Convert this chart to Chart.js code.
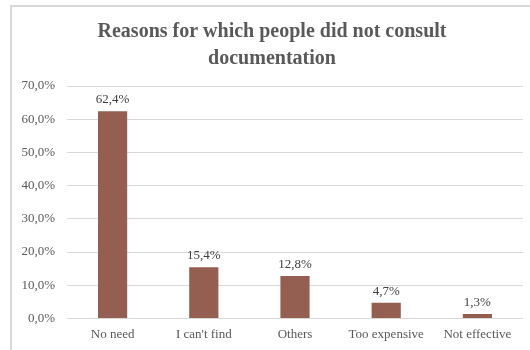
<!DOCTYPE html>
<html>
<head>
<meta charset="utf-8">
<script src="https://cdn.jsdelivr.net/npm/chart.js@4.4.1/dist/chart.umd.min.js"></script>
<style>
  body { margin: 0; background: #fff; }
  #frame {
    position: absolute; left: 10px; top: 5px;
    width: 530px; height: 350px;
    border: 2px solid #d9d9d9;
    background: #fff;
  }
  #wrap { position: absolute; left: 0; top: 0; width: 518px; height: 343px; }
</style>
</head>
<body>
<div id="frame"><div id="wrap"><canvas id="reasons"></canvas></div></div>
<script>
const categories = ['No need', "I can't find", 'Others', 'Too expensive', 'Not effective'];
const shares = [62.4, 15.4, 12.8, 4.7, 1.3];
const titleLines = ['Reasons for which people did not consult', 'documentation'];

const fmt = (v, digits) => v.toFixed(digits).replace('.', ',') + '%';

// value labels above each bar (no datalabels plugin offline)
const barLabels = {
  id: 'barLabels',
  afterDatasetsDraw(chart) {
    const ctx = chart.ctx;
    const meta = chart.getDatasetMeta(0);
    ctx.save();
    ctx.font = '13px "Liberation Serif"';
    ctx.fillStyle = '#404040';
    ctx.textAlign = 'center';
    ctx.textBaseline = 'bottom';
    meta.data.forEach((bar, i) => {
      ctx.fillText(fmt(shares[i], 1), bar.x, bar.y - 5);
    });
    ctx.restore();
  }
};

new Chart(document.getElementById('reasons'), {
  type: 'bar',
  plugins: [barLabels],
  data: {
    labels: categories,
    datasets: [{
      data: shares,
      backgroundColor: '#945f50',
      barPercentage: 0.32,
      categoryPercentage: 1
    }]
  },
  options: {
    responsive: true,
    maintainAspectRatio: false,
    animation: false,
    layout: { padding: { left: 9, right: 7, top: 0, bottom: 0 } },
    plugins: {
      legend: { display: false },
      tooltip: { enabled: false },
      title: {
        display: true,
        text: titleLines,
        color: '#595959',
        font: { family: '"Liberation Serif"', size: 20, weight: 'bold', lineHeight: 1.35 },
        padding: { top: 11, bottom: 14 }
      }
    },
    scales: {
      x: {
        grid: { display: false, drawTicks: false },
        border: { display: false },
        ticks: { color: '#595959', font: { family: '"Liberation Serif"', size: 13 }, padding: 8 }
      },
      y: {
        min: 0, max: 70,
        afterFit: scale => { scale.width = 46; },
        ticks: {
          stepSize: 10,
          color: '#595959',
          font: { family: '"Liberation Serif"', size: 13 },
          padding: 12,
          callback: v => fmt(v, 1)
        },
        grid: { color: '#d9d9d9', drawTicks: false },
        border: { display: false }
      }
    }
  }
});
</script>
</body>
</html>
